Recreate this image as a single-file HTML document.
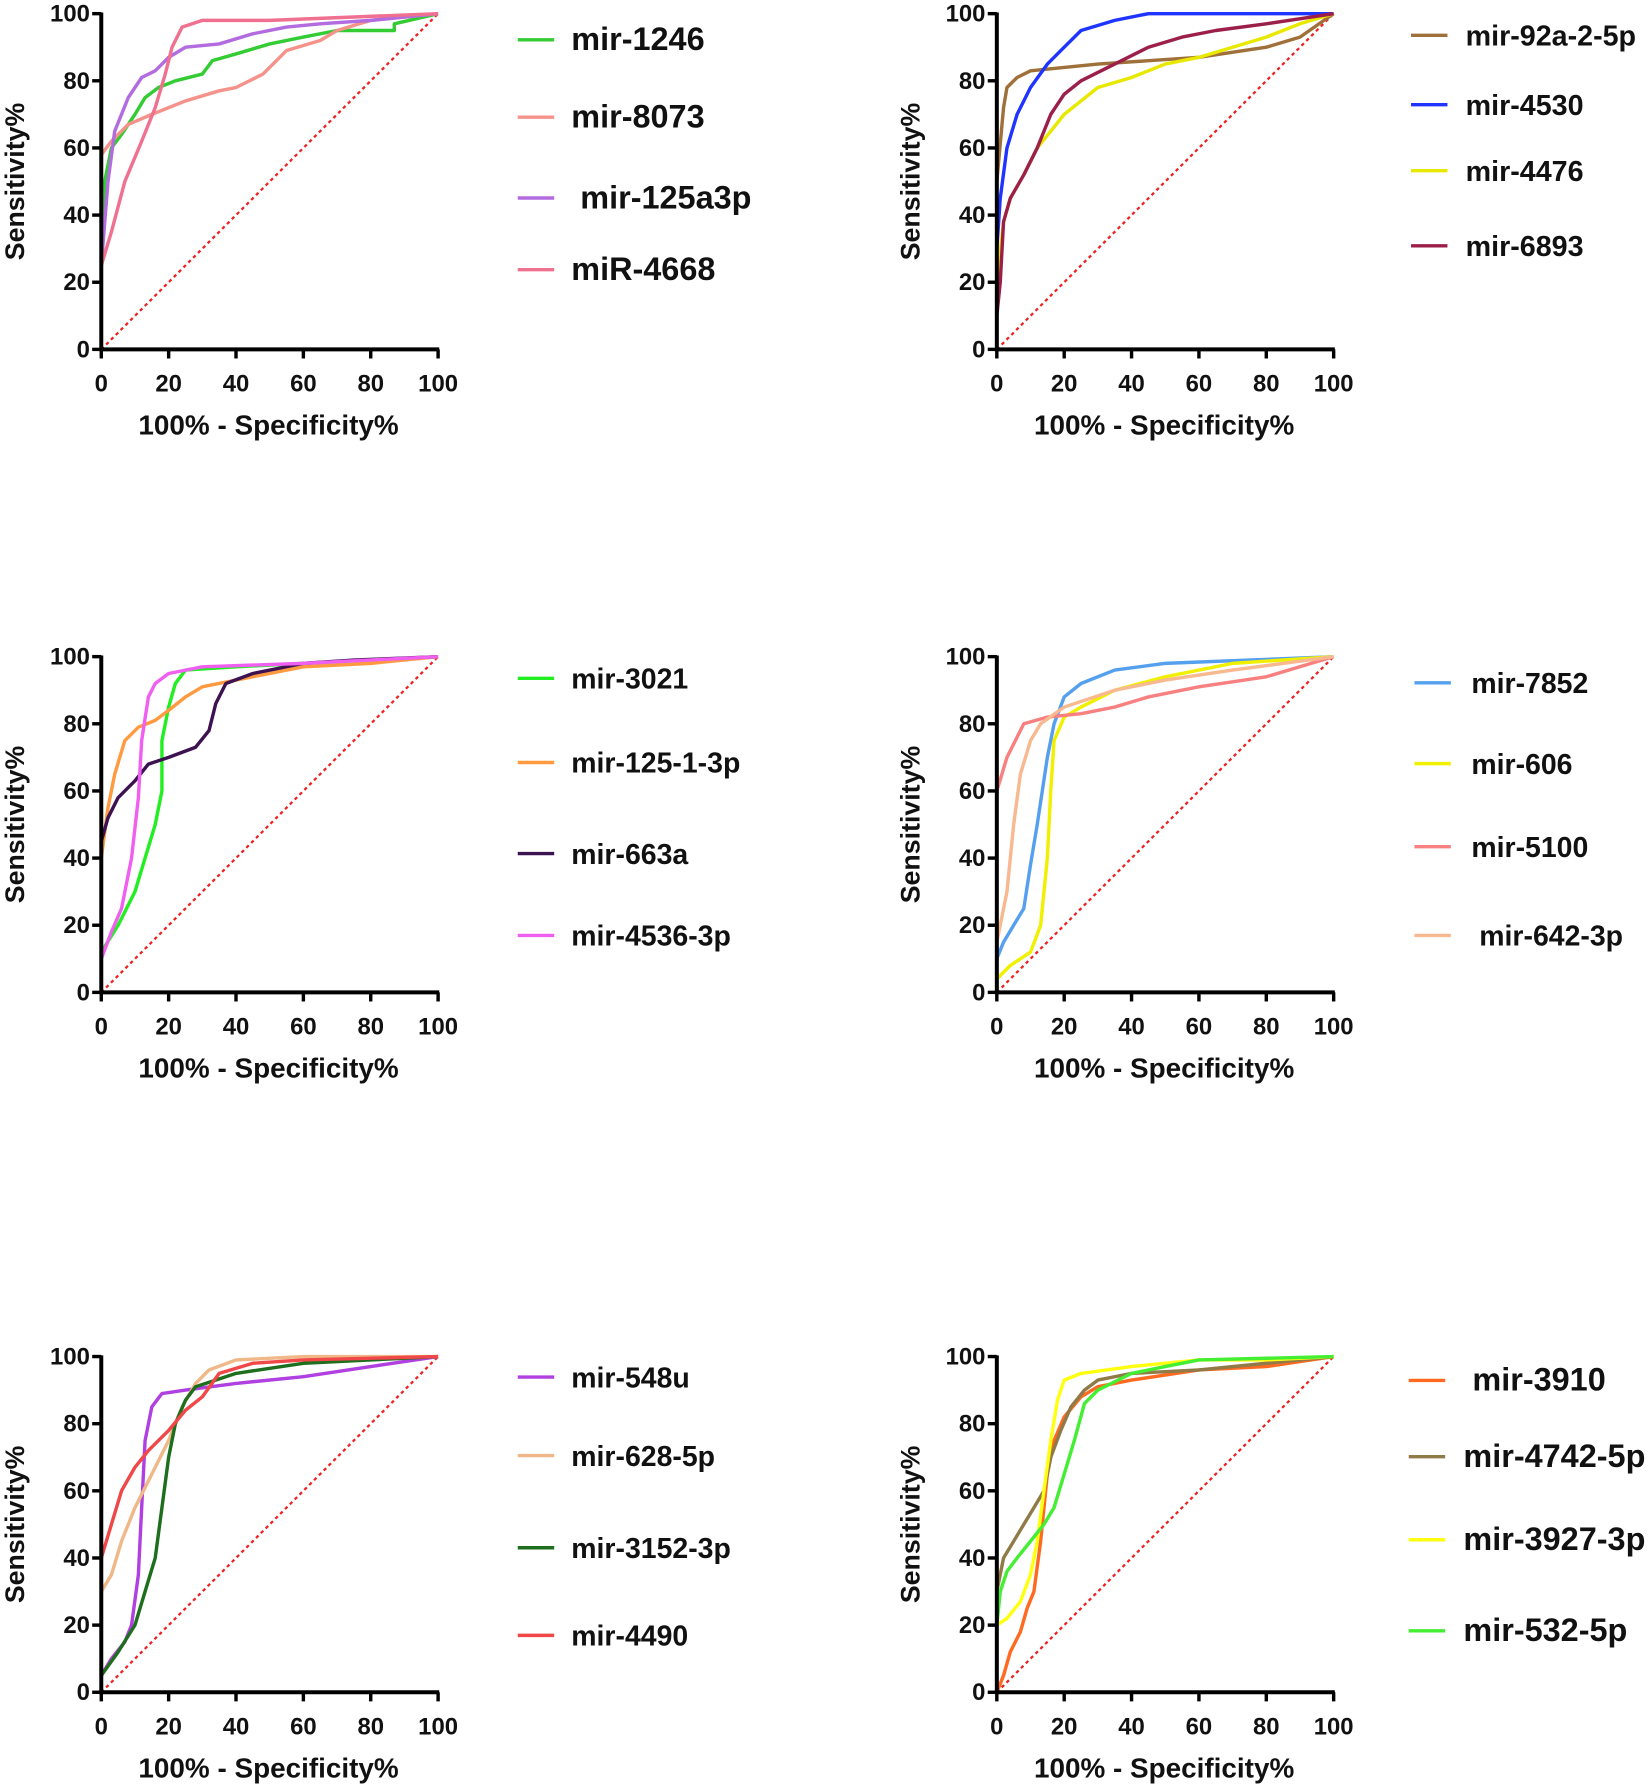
<!DOCTYPE html>
<html><head><meta charset="utf-8"><style>
html,body{margin:0;padding:0;background:#fff;}
svg{display:block}
text{font-family:"Liberation Sans",Arial,sans-serif;font-weight:bold;fill:#111}
</style></head><body>
<svg id="s" width="1650" height="1789" viewBox="0 0 1450 1572" preserveAspectRatio="none" xmlns="http://www.w3.org/2000/svg"></svg>
<script>
const S=document.getElementById('s');
let h='';
const panels=[
 {x0:89,y0:307,leg:{lx:455,tx:502,fs:28.5},series:[
  ['mir-1246','#33cc33',35,[[0,0],[0,30],[1,50],[3,60],[6,64],[10,70],[13,75],[17,78],[22,80],[30,82],[33,86],[40,88],[50,91],[60,93],[70,95],[87,95],[87,97],[100,100]]],
  ['mir-8073','#f5938a',103,[[0,0],[0,58],[3,62],[8,67],[15,70],[25,74],[35,77],[40,78],[48,82],[52,86],[55,89],[65,92],[70,95],[80,98],[100,100]]],
  [' mir-125a3p','#b36be0',174,[[0,0],[0,25],[2,50],[4,65],[8,75],[12,81],[16,83],[20,87],[25,90],[35,91],[45,94],[55,96],[65,97],[80,98],[100,100]]],
  ['miR-4668','#f07090',237,[[0,0],[0,15],[0,25],[3,35],[7,50],[12,62],[16,72],[19,82],[21,90],[24,96],[30,98],[50,98],[100,100]]]]},
 {x0:876,y0:307,leg:{lx:1240,tx:1288,fs:25.2},series:[
  ['mir-92a-2-5p','#a0703a',31,[[0,0],[0,50],[2,72],[3,78],[6,81],[10,83],[30,85],[60,87],[80,90],[90,93],[100,100]]],
  ['mir-4530','#1f35ff',92,[[0,0],[0,30],[1,45],[3,60],[6,70],[10,78],[15,85],[20,90],[25,95],[35,98],[45,100],[100,100]]],
  ['mir-4476','#e8e800',150,[[0,0],[0,20],[2,38],[4,45],[8,52],[12,60],[16,65],[20,70],[25,74],[30,78],[40,81],[50,85],[60,87],[70,90],[80,93],[90,97],[100,100]]],
  ['mir-6893','#9c1f4a',216,[[0,0],[0,10],[1,20],[2,38],[4,45],[8,52],[12,60],[16,70],[20,76],[25,80],[35,85],[45,90],[55,93],[65,95],[80,97],[100,100]]]]},
 {x0:89,y0:872,leg:{lx:455,tx:502,fs:25},series:[
  ['mir-3021','#22ee22',596,[[0,0],[0,12],[5,20],[10,30],[13,40],[16,50],[18,60],[18,75],[20,85],[22,92],[25,96],[40,97],[60,98],[100,100]]],
  ['mir-125-1-3p','#ff9a40',670,[[0,0],[0,40],[2,55],[4,65],[7,75],[11,79],[16,81],[20,84],[25,88],[30,91],[40,93],[60,97],[80,98],[100,100]]],
  ['mir-663a','#3d1250',750,[[0,0],[0,45],[2,52],[5,58],[10,63],[14,68],[20,70],[28,73],[32,78],[34,86],[37,92],[45,95],[60,98],[75,99],[100,100]]],
  ['mir-4536-3p','#f060f0',822,[[0,0],[0,10],[3,18],[6,25],[9,40],[11,58],[12,75],[14,88],[16,92],[20,95],[30,97],[60,98],[100,100]]]]},
 {x0:876,y0:872,leg:{lx:1243,tx:1293,fs:25},series:[
  ['mir-7852','#55a0ee',600,[[0,0],[0,10],[2,15],[5,20],[8,25],[10,38],[12,50],[15,70],[17,80],[20,88],[25,92],[35,96],[50,98],[100,100]]],
  ['mir-606','#f0f000',671,[[0,0],[0,4],[4,8],[10,12],[13,20],[15,40],[16,60],[17,75],[20,82],[25,85],[35,90],[50,94],[70,98],[100,100]]],
  ['mir-5100','#f88080',744,[[0,0],[0,60],[3,70],[8,80],[15,82],[25,83],[35,85],[45,88],[60,91],[80,94],[100,100]]],
  [' mir-642-3p','#f8b890',822,[[0,0],[0,15],[3,30],[5,50],[7,65],[10,75],[13,80],[20,85],[35,90],[50,93],[70,96],[100,100]]]]},
 {x0:89,y0:1487,leg:{lx:455,tx:502,fs:25},series:[
  ['mir-548u','#b040e0',1210,[[0,0],[0,5],[3,10],[7,15],[9,20],[11,35],[12,55],[13,75],[15,85],[18,89],[25,90],[40,92],[60,94],[80,97],[100,100]]],
  ['mir-628-5p','#f0b888',1279,[[0,0],[0,30],[3,35],[6,45],[10,55],[15,65],[20,75],[24,85],[28,92],[32,96],[40,99],[60,100],[100,100]]],
  ['mir-3152-3p','#1d6e1d',1360,[[0,0],[0,5],[5,12],[10,20],[13,30],[16,40],[18,55],[20,70],[22,80],[25,87],[28,91],[40,95],[60,98],[80,99],[100,100]]],
  ['mir-4490','#f04848',1437,[[0,0],[0,40],[3,50],[6,60],[10,67],[14,72],[20,78],[25,84],[30,88],[35,95],[45,98],[60,99],[100,100]]]]},
 {x0:876,y0:1487,leg:{lx:1238,tx:1286,fs:28.5},series:[
  [' mir-3910','#ff6a20',1213,[[0,0],[2,5],[4,12],[7,18],[9,25],[11,30],[13,45],[15,65],[17,75],[20,82],[25,88],[30,91],[40,93],[60,96],[80,97],[100,100]]],
  ['mir-4742-5p','#8f7a48',1280,[[0,0],[0,30],[2,40],[5,45],[8,50],[11,55],[14,60],[16,70],[19,78],[22,85],[26,90],[30,93],[40,95],[60,96],[80,98],[100,100]]],
  ['mir-3927-3p','#ffff10',1353,[[0,0],[0,20],[3,22],[7,27],[10,35],[12,45],[14,60],[16,75],[18,87],[20,93],[25,95],[40,97],[60,99],[80,99],[100,100]]],
  ['mir-532-5p','#44ee33',1433,[[0,0],[0,20],[1,30],[3,36],[6,40],[10,45],[14,50],[17,55],[20,65],[23,75],[26,86],[30,90],[40,95],[50,97],[60,99],[100,100]]]]}
];
const W=296,H=295;
for(const p of panels){
 const X=v=>p.x0+v*W/100, Y=v=>p.y0-v*H/100;
 h+=`<line x1="${X(0)}" y1="${Y(0)}" x2="${X(100)}" y2="${Y(100)}" stroke="#ee2222" stroke-width="2" stroke-dasharray="3,3"/>`;
 for(const s of p.series){
  h+=`<polyline fill="none" stroke="${s[1]}" stroke-width="3" stroke-linejoin="round" points="${s[3].map(q=>X(q[0]).toFixed(1)+','+Y(q[1]).toFixed(1)).join(' ')}"/>`;
  h+=`<line x1="${p.leg.lx}" y1="${s[2]}" x2="${p.leg.lx+32}" y2="${s[2]}" stroke="${s[1]}" stroke-width="3"/>`;
  h+=`<text x="${p.leg.tx}" y="${s[2]+9}" font-size="${p.leg.fs}" xml:space="preserve">${s[0]}</text>`;
 }
 h+=`<path d="M${X(0)},${Y(100)-1} V${Y(0)} H${X(100)+1}" fill="none" stroke="#000" stroke-width="3.5"/>`;
 for(let v=0;v<=100;v+=20){
  h+=`<line x1="${X(0)-8}" y1="${Y(v)}" x2="${X(0)}" y2="${Y(v)}" stroke="#000" stroke-width="3"/>`;
  h+=`<text x="${X(0)-10}" y="${Y(v)+7}" font-size="21" text-anchor="end">${v}</text>`;
  h+=`<line x1="${X(v)}" y1="${Y(0)}" x2="${X(v)}" y2="${Y(0)+8}" stroke="#000" stroke-width="3"/>`;
  h+=`<text x="${X(v)}" y="${Y(0)+37}" font-size="21" text-anchor="middle">${v}</text>`;
 }
 h+=`<text x="${X(50)-1}" y="${Y(0)+75}" font-size="24.5" text-anchor="middle">100% - Specificity%</text>`;
 const cx=p.x0-68, cy=Y(50);
 h+=`<text x="${cx}" y="${cy}" font-size="23.5" text-anchor="middle" transform="rotate(-90 ${cx} ${cy})">Sensitivity%</text>`;
}
S.innerHTML=h;
</script>
</body></html>
